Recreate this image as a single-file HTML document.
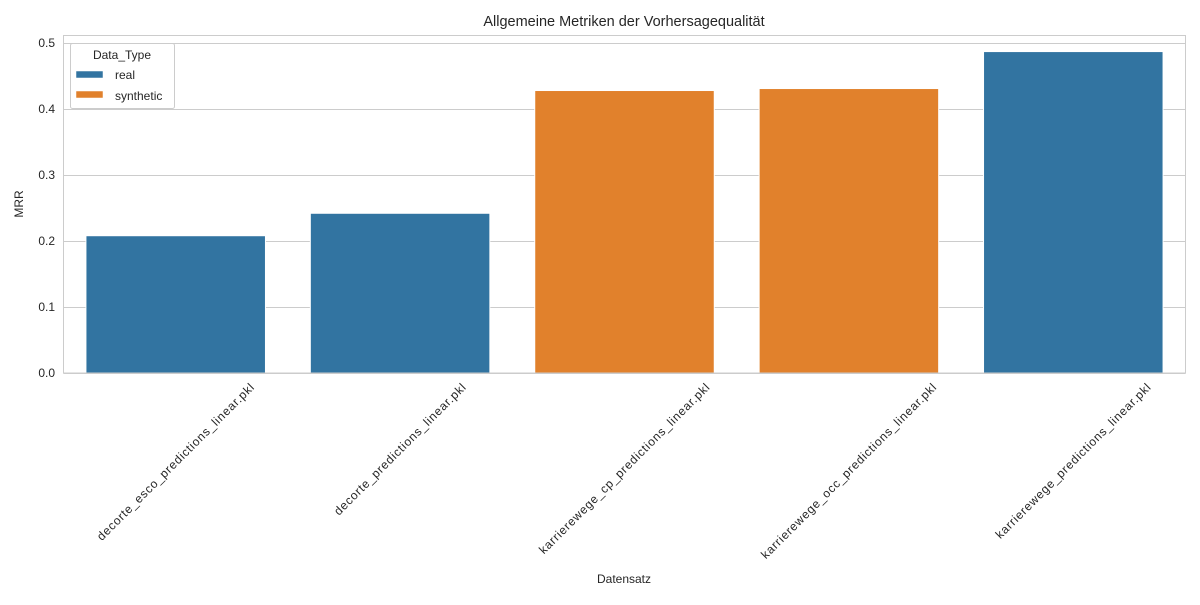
<!DOCTYPE html>
<html><head><meta charset="utf-8"><style>
body{margin:0;background:#fff;font-family:"Liberation Sans",sans-serif}
svg text{font-family:"Liberation Sans",sans-serif;fill:#262626}
</style></head><body>
<svg id="chart" width="1200" height="600">
<text x="624" y="26" font-size="14.5" text-anchor="middle">Allgemeine Metriken der Vorhersagequalität</text>
<g id="grid"></g><g id="bars"></g><g id="xt"></g><g id="yt"></g>
<rect x="63.5" y="35.5" width="1122" height="337.5" fill="none" stroke="#cccccc" stroke-width="1"/>
<text x="624" y="583" font-size="12" text-anchor="middle">Datensatz</text>
<text transform="translate(23,204) rotate(-90)" font-size="12" text-anchor="middle">MRR</text>
<g>
<rect x="70.5" y="43.5" width="104" height="65" rx="2" fill="#fff" fill-opacity="0.8" stroke="#cccccc"/>
<text x="122" y="59" font-size="12" text-anchor="middle">Data_Type</text>
<rect x="76" y="71" width="27" height="7" fill="#3274a1" stroke="#fff" stroke-width="0.5"/>
<text x="115" y="79" font-size="12">real</text>
<rect x="76" y="91" width="27" height="7" fill="#e1812c" stroke="#fff" stroke-width="0.5"/>
<text x="115" y="100" font-size="12">synthetic</text>
</g>
</svg>
<script>
const categories=["decorte_esco_predictions_linear.pkl","decorte_predictions_linear.pkl","karrierewege_cp_predictions_linear.pkl","karrierewege_occ_predictions_linear.pkl","karrierewege_predictions_linear.pkl"];
const values=[0.208,0.242,0.428,0.431,0.487];
const types=["real","real","synthetic","synthetic","real"];
const yTicks=[0.0,0.1,0.2,0.3,0.4,0.5];
const NS="http://www.w3.org/2000/svg";
const L=63.5,R=1185.5,B=373,PX=660;
const y=v=>B-v*PX;
const band=(R-L)/categories.length;
const x=i=>L+band*(i+0.5);
const colors={real:"#3274a1",synthetic:"#e1812c"};
function mk(t,a,p){const e=document.createElementNS(NS,t);for(const k in a)e.setAttribute(k,a[k]);p.appendChild(e);return e;}
const grid=document.getElementById("grid"),yt=document.getElementById("yt"),bars=document.getElementById("bars"),xt=document.getElementById("xt");
yTicks.forEach(v=>{
 const l=mk("line",{x1:L,x2:R,y1:y(v)+0.5,y2:y(v)+0.5,stroke:"#cccccc"},grid);
 
 
 const t=mk("text",{x:55,y:y(v)+4,"font-size":12,"text-anchor":"end"},yt);
 t.textContent=v.toFixed(1);
 
 
});
categories.forEach((c,i)=>{
 const w=band*0.8;
 const r=mk("rect",{x:x(i)-w/2,y:y(values[i]),width:w,height:B-y(values[i]),fill:colors[types[i]],stroke:"#fff","stroke-width":1},bars);
 
 
 const t=mk("text",{"font-size":12,"text-anchor":"middle","letter-spacing":"0.75"},xt);
 t.textContent=c;
 
 
 const len=t.getComputedTextLength();
 const cy=B+7+len*0.3536+5;
 t.setAttribute("transform",`translate(${x(i)},${cy}) rotate(-45) translate(0,4)`);
});
</script>
</body></html>
